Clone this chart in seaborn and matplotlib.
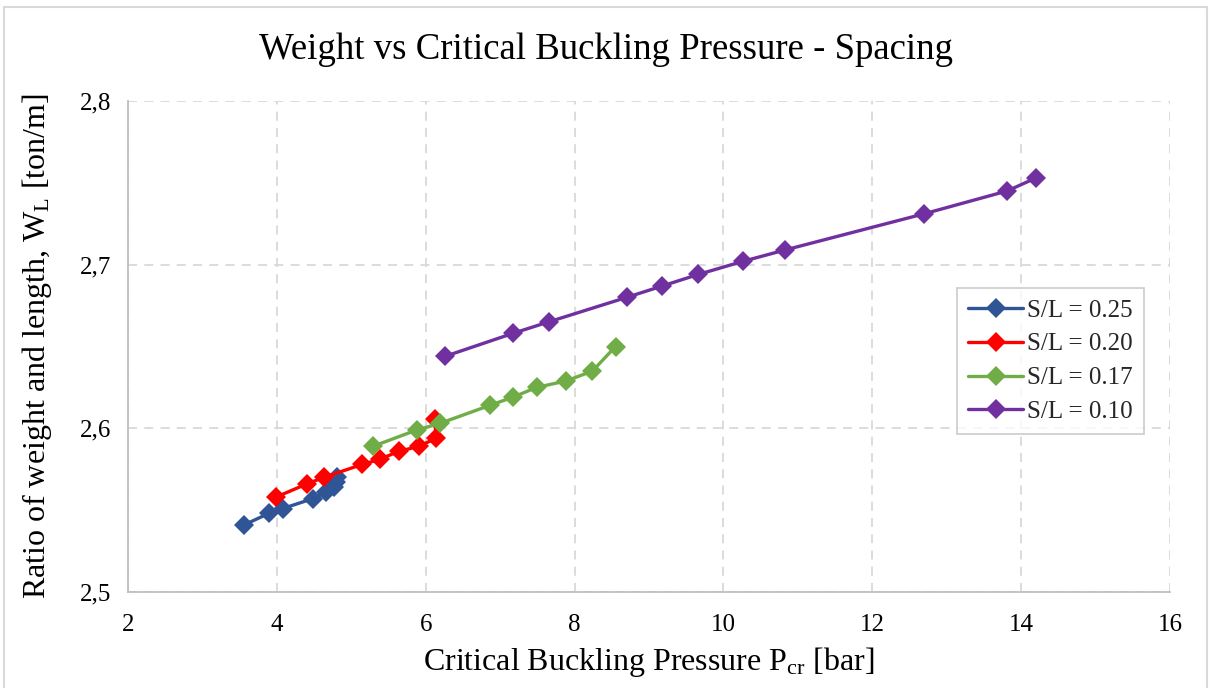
import matplotlib
matplotlib.use("Agg")
import matplotlib.pyplot as plt
from matplotlib.ticker import FuncFormatter, MultipleLocator
from matplotlib.patches import Rectangle
import seaborn as sns
import pandas as pd

# Critical buckling pressure [bar] and weight per length [ton/m] for each stiffener spacing
p_025 = [3.56, 3.89, 4.08, 4.48, 4.66, 4.77, 4.79, 4.81]
w_025 = [2.541, 2.548, 2.551, 2.557, 2.561, 2.564, 2.567, 2.570]

p_020 = [3.99, 4.40, 4.63, 5.15, 5.38, 5.64, 5.91, 6.14, 6.12]
w_020 = [2.558, 2.566, 2.570, 2.578, 2.581, 2.586, 2.589, 2.594, 2.606]

p_017 = [5.29, 5.88, 6.19, 6.86, 7.17, 7.49, 7.89, 8.24, 8.55]
w_017 = [2.589, 2.599, 2.603, 2.614, 2.619, 2.625, 2.629, 2.635, 2.650]

p_010 = [6.26, 7.17, 7.65, 8.70, 9.18, 9.66, 10.26, 10.83, 12.69, 13.81, 14.20]
w_010 = [2.644, 2.658, 2.665, 2.680, 2.687, 2.694, 2.702, 2.709, 2.731, 2.745, 2.753]

series_labels = ["S/L = 0.25", "S/L = 0.20", "S/L = 0.17", "S/L = 0.10"]
series_colors = ["#2F5597", "#FF0000", "#70AD47", "#7030A0"]
series_p = [p_025, p_020, p_017, p_010]
series_w = [w_025, w_020, w_017, w_010]

x_ticks = [2, 4, 6, 8, 10, 12, 14, 16]
y_ticks = [2.5, 2.6, 2.7, 2.8]

sns.set_style("white")
plt.rcParams["font.family"] = ["Liberation Serif", "DejaVu Serif"]
plt.rcParams["mathtext.fontset"] = "custom"
plt.rcParams["mathtext.rm"] = "Liberation Serif"
plt.rcParams["mathtext.it"] = "Liberation Serif"

fig = plt.figure(figsize=(12.12, 6.88), dpi=100)
ax = fig.add_axes([128 / 1212, 1 - 592 / 688, 1042 / 1212, 491 / 688])

# outer chart border
fig.patches.append(Rectangle((4 / 1212, -0.01), 1203 / 1212, 1 - 7 / 688 + 0.01,
                             transform=fig.transFigure, fill=False,
                             edgecolor="#D9D9D9", linewidth=1.5, zorder=0))

frames = []
for lab, p, w in zip(series_labels, series_p, series_w):
    frames.append(pd.DataFrame({"P": p, "W": w, "series": lab}))
df = pd.concat(frames, ignore_index=True)

for lab, col in zip(series_labels, series_colors):
    sub = df[df["series"] == lab]
    sns.lineplot(data=sub, x="P", y="W", ax=ax, color=col, sort=False,
                 estimator=None, linewidth=2.4, marker="D", markersize=10,
                 markeredgewidth=0, label=lab, zorder=3)

ax.set_xlim(2, 16)
ax.set_ylim(2.5, 2.8)
ax.set_xticks(x_ticks)
ax.set_yticks(y_ticks)
ax.xaxis.set_minor_locator(MultipleLocator(1))
ax.yaxis.set_minor_locator(MultipleLocator(0.05))
ax.yaxis.set_major_formatter(FuncFormatter(lambda v, _: f"{v:.1f}".replace(".", ",")))
ax.xaxis.set_major_formatter(FuncFormatter(lambda v, _: f"{v:.0f}"))

ax.grid(True, which="major", color="#D9D9D9", linestyle=(0, (5, 4)), linewidth=1.3)
ax.set_axisbelow(True)
for side in ["top", "right"]:
    ax.spines[side].set_visible(False)
for side in ["left", "bottom"]:
    ax.spines[side].set_color("#BFBFBF")
    ax.spines[side].set_linewidth(1.3)

ax.tick_params(axis="both", which="both", direction="inout", color="#BFBFBF",
               width=1, labelsize=18, labelcolor="#000000")
ax.tick_params(axis="both", which="major", length=0)
ax.tick_params(axis="both", which="minor", length=8)
ax.tick_params(axis="x", which="major", pad=16)
ax.tick_params(axis="y", which="major", pad=12)

ax.set_xlabel(r"Critical Buckling Pressure P$_{\mathrm{cr}}$ [bar]", fontsize=23,
              color="#000000")
ax.set_ylabel(r"Ratio of weight and length, W$_{\mathrm{L}}$ [ton/m]", fontsize=23,
              color="#000000")
ax.xaxis.set_label_coords(0.5, -0.108)
ax.yaxis.set_label_coords(-0.071, 0.5)

fig.text(0.5, 1 - 50 / 688, "Weight vs Critical Buckling Pressure - Spacing",
         ha="center", va="center", fontsize=26.5, color="#000000")

leg = ax.legend(loc="upper left", bbox_to_anchor=((957 - 128) / 1042, (592 - 288) / 491),
                fontsize=18, frameon=True, fancybox=False, edgecolor="#BFBFBF",
                handlelength=2.2, handletextpad=0.15, borderpad=0.45, labelspacing=0.45,
                borderaxespad=0)
leg.get_frame().set_linewidth(1.2)

fig.savefig("out.png", dpi=100)
